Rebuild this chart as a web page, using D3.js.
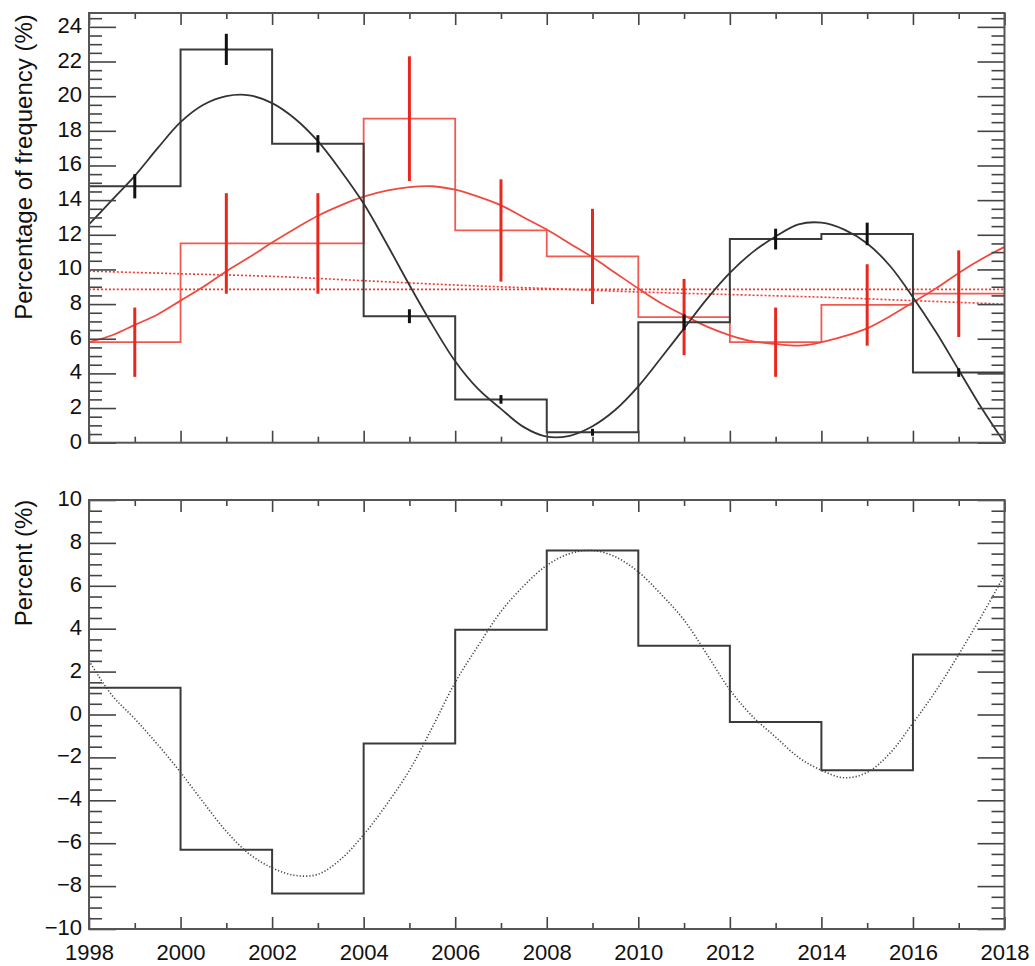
<!DOCTYPE html>
<html>
<head>
<meta charset="utf-8">
<script src="https://cdn.jsdelivr.net/npm/d3@7"></script>
<style>
  body { margin: 0; background: #fff; }
  text { font-family: "Liberation Sans", Arial, Helvetica, sans-serif; }
</style>
</head>
<body>
<div id="chart"></div>
<script>
// bins (2-year) and their centres
const binStarts = [1998, 2000, 2002, 2004, 2006, 2008, 2010, 2012, 2014, 2016];
const binMids   = [1999, 2001, 2003, 2005, 2007, 2009, 2011, 2013, 2015, 2017];
const xMajorTicks = [1998, 2000, 2002, 2004, 2006, 2008, 2010, 2012, 2014, 2016, 2018];
const xMinorTicks = [1999, 2001, 2003, 2005, 2007, 2009, 2011, 2013, 2015, 2017];

// top panel: frequency histograms with error bars
const blackHist = [14.8, 22.7, 17.25, 7.3, 2.5, 0.6, 6.95, 11.75, 12.05, 4.05];
const blackErr  = [0.7, 0.9, 0.5, 0.4, 0.25, 0.2, 0.45, 0.6, 0.65, 0.25];
const redHist   = [5.8, 11.5, 11.5, 18.7, 12.25, 10.75, 7.25, 5.8, 7.95, 8.6];
const redErr    = [2.0, 2.9, 2.9, 3.6, 2.95, 2.75, 2.2, 2.0, 2.35, 2.5];

// fitted curves, read at half-year steps
const fitYears = [1998, 1998.5, 1999, 1999.5, 2000, 2000.5, 2001, 2001.5, 2002, 2002.5,
                  2003, 2003.5, 2004, 2004.5, 2005, 2005.5, 2006, 2006.5, 2007, 2007.5,
                  2008, 2008.5, 2009, 2009.5, 2010, 2010.5, 2011, 2011.5, 2012, 2012.5,
                  2013, 2013.5, 2014, 2014.5, 2015, 2015.5, 2016, 2016.5, 2017, 2017.5, 2018];
const blackFit = [12.6, 14.0, 15.4, 17.0, 18.5, 19.5, 20.0, 20.05, 19.6, 18.7,
                  17.4, 15.7, 13.8, 11.5, 9.1, 6.8, 4.7, 3.1, 1.95, 0.9,
                  0.35, 0.4, 0.95, 1.9, 3.25, 4.9, 6.6, 8.3, 9.8, 11.0,
                  11.9, 12.6, 12.7, 12.3, 11.5, 10.2, 8.4, 6.4, 4.2, 2.0, 0.0];
const redFit   = [5.8, 6.2, 6.8, 7.4, 8.2, 9.0, 9.9, 10.7, 11.55, 12.35,
                  13.1, 13.7, 14.2, 14.55, 14.75, 14.8, 14.6, 14.2, 13.7, 13.0,
                  12.3, 11.5, 10.7, 9.8, 8.9, 8.05, 7.35, 6.7, 6.2, 5.85,
                  5.7, 5.6, 5.8, 6.15, 6.6, 7.3, 8.1, 8.9, 9.8, 10.6, 11.3];

// red dotted reference levels
const levelYears = [1998, 2000, 2002, 2004, 2006, 2008, 2010, 2012, 2014, 2016, 2018];
const redLevelA  = [8.85, 8.85, 8.85, 8.85, 8.85, 8.85, 8.85, 8.85, 8.85, 8.85, 8.85];
const redLevelB  = [9.9, 9.75, 9.6, 9.35, 9.1, 8.9, 8.7, 8.55, 8.4, 8.2, 8.0];

// bottom panel: percent anomaly histogram and fit
const pctHist = [1.25, -6.3, -8.35, -1.35, 3.95, 7.65, 3.2, -0.35, -2.6, 2.8];
const pctFit  = [2.5, 0.9, -0.2, -1.4, -2.7, -4.1, -5.45, -6.5, -7.15, -7.5,
                 -7.45, -6.75, -5.6, -4.2, -2.6, -0.6, 1.5, 3.2, 4.8, 6.0,
                 6.95, 7.5, 7.65, 7.35, 6.65, 5.6, 4.4, 2.8, 1.15, -0.1,
                 -1.05, -2.0, -2.6, -2.95, -2.7, -1.8, -0.4, 1.1, 2.8, 4.6, 6.5];

const topMajor = [0, 2, 4, 6, 8, 10, 12, 14, 16, 18, 20, 22, 24];
const botMajor = [-10, -8, -6, -4, -2, 0, 2, 4, 6, 8, 10];

const W = 1035, H = 966;
const xL = 89, xR = 1004.5;

const svg = d3.select("#chart").append("svg")
    .attr("width", W)
    .attr("height", H);

const x = d3.scaleLinear().domain([1998, 2018]).range([xL, xR]);
const yTop = d3.scaleLinear().domain([0, 24.8]).range([442.7, 13]);
const yBot = d3.scaleLinear().domain([-10, 10]).range([929, 500]);

const frameColor = "#555";
const black = "#3a3a3a";
const red = "#ee3a30";

function styleAxis(g, labels) {
    g.select(".domain").remove();
    g.attr("color", "#444");
    g.selectAll(".tick line").attr("stroke-width", 1.6);
    g.selectAll(".tick text")
        .attr("fill", "#111")
        .style("font-size", labels ? "22px" : "0px")
        .style("font-family", "'Liberation Sans', Arial, Helvetica, sans-serif");
}

function drawFrame(y, yMajor, xLabels) {
    const [yb, yt] = y.range();
    const yMinor = d3.range(y.domain()[0], y.domain()[1] + 0.01, 0.5)
        .filter(v => !yMajor.includes(v));

    // x ticks, bottom and top
    svg.append("g").attr("transform", `translate(0,${yb})`)
        .call(d3.axisBottom(x).tickValues(xMajorTicks).tickSize(-12).tickPadding(15)
            .tickFormat(xLabels ? d3.format("d") : () => ""))
        .call(g => styleAxis(g, xLabels));
    svg.append("g").attr("transform", `translate(0,${yb})`)
        .call(d3.axisBottom(x).tickValues(xMinorTicks).tickSize(-6).tickFormat(() => ""))
        .call(g => styleAxis(g, false));
    svg.append("g").attr("transform", `translate(0,${yt})`)
        .call(d3.axisTop(x).tickValues(xMajorTicks).tickSize(-12).tickFormat(() => ""))
        .call(g => styleAxis(g, false));
    svg.append("g").attr("transform", `translate(0,${yt})`)
        .call(d3.axisTop(x).tickValues(xMinorTicks).tickSize(-6).tickFormat(() => ""))
        .call(g => styleAxis(g, false));

    // y ticks, left and right
    svg.append("g").attr("transform", `translate(${xL},0)`)
        .call(d3.axisLeft(y).tickValues(yMajor).tickSize(-27).tickPadding(7)
            .tickFormat(d3.format("d")))
        .call(g => styleAxis(g, true))
        .call(g => g.selectAll(".tick text").attr("dy", "0.25em"));
    svg.append("g").attr("transform", `translate(${xL},0)`)
        .call(d3.axisLeft(y).tickValues(yMinor).tickSize(-13).tickFormat(() => ""))
        .call(g => styleAxis(g, false));
    svg.append("g").attr("transform", `translate(${xR},0)`)
        .call(d3.axisRight(y).tickValues(yMajor).tickSize(-27).tickFormat(() => ""))
        .call(g => styleAxis(g, false));
    svg.append("g").attr("transform", `translate(${xR},0)`)
        .call(d3.axisRight(y).tickValues(yMinor).tickSize(-13).tickFormat(() => ""))
        .call(g => styleAxis(g, false));

    svg.append("rect")
        .attr("x", xL).attr("y", yt)
        .attr("width", xR - xL).attr("height", yb - yt)
        .attr("fill", "none")
        .attr("stroke", frameColor)
        .attr("stroke-width", 2);
}

function stepPath(y, values) {
    const pts = binStarts.map((b, i) => [b, values[i]]);
    pts.push([2018, values[values.length - 1]]);
    return d3.line().x(d => x(d[0])).y(d => y(d[1])).curve(d3.curveStepAfter)(pts);
}

function curvePath(y, xs, values) {
    return d3.line().x((d, i) => x(xs[i])).y(d => y(d))
        .curve(d3.curveCatmullRom.alpha(0.5))(values);
}

// ---------- top panel ----------
const topPanel = svg.append("g");

[redLevelA, redLevelB].forEach(level => {
    topPanel.append("path")
        .attr("d", curvePath(yTop, levelYears, level))
        .attr("fill", "none")
        .attr("stroke", red)
        .attr("stroke-width", 1.6)
        .attr("stroke-dasharray", "2,2");
});

topPanel.append("path")
    .attr("d", stepPath(yTop, redHist))
    .attr("fill", "none")
    .attr("stroke", "#f05a50")
    .attr("stroke-width", 1.8);

topPanel.append("path")
    .attr("d", curvePath(yTop, fitYears, redFit))
    .attr("fill", "none")
    .attr("stroke", "#ef4a40")
    .attr("stroke-width", 1.8);

topPanel.selectAll(".redErr")
    .data(binMids)
    .join("line")
        .attr("class", "redErr")
        .attr("x1", d => x(d)).attr("x2", d => x(d))
        .attr("y1", (d, i) => yTop(redHist[i] - redErr[i]))
        .attr("y2", (d, i) => yTop(redHist[i] + redErr[i]))
        .attr("stroke", "#e8281e")
        .attr("stroke-width", 3);

topPanel.append("path")
    .attr("d", stepPath(yTop, blackHist))
    .attr("fill", "none")
    .attr("stroke", black)
    .attr("stroke-width", 2);

topPanel.append("path")
    .attr("d", curvePath(yTop, fitYears, blackFit))
    .attr("fill", "none")
    .attr("stroke", "#333")
    .attr("stroke-width", 1.8);

topPanel.selectAll(".blackErr")
    .data(binMids)
    .join("line")
        .attr("class", "blackErr")
        .attr("x1", d => x(d)).attr("x2", d => x(d))
        .attr("y1", (d, i) => yTop(blackHist[i] - blackErr[i]))
        .attr("y2", (d, i) => yTop(blackHist[i] + blackErr[i]))
        .attr("stroke", "#111")
        .attr("stroke-width", 3);

drawFrame(yTop, topMajor, false);

// ---------- bottom panel ----------
const botPanel = svg.append("g");

botPanel.append("path")
    .attr("d", stepPath(yBot, pctHist))
    .attr("fill", "none")
    .attr("stroke", black)
    .attr("stroke-width", 2);

botPanel.append("path")
    .attr("d", curvePath(yBot, fitYears, pctFit))
    .attr("fill", "none")
    .attr("stroke", "#444")
    .attr("stroke-width", 1.6)
    .attr("stroke-dasharray", "1.2,2");

drawFrame(yBot, botMajor, true);

// axis titles
svg.append("text")
    .attr("transform", "translate(32,167) rotate(-90)")
    .attr("text-anchor", "middle")
    .style("font-size", "24px")
    .attr("fill", "#111")
    .text("Percentage of frequency (%)");

svg.append("text")
    .attr("transform", "translate(32,563) rotate(-90)")
    .attr("text-anchor", "middle")
    .style("font-size", "24px")
    .attr("fill", "#111")
    .text("Percent (%)");
</script>
</body>
</html>
